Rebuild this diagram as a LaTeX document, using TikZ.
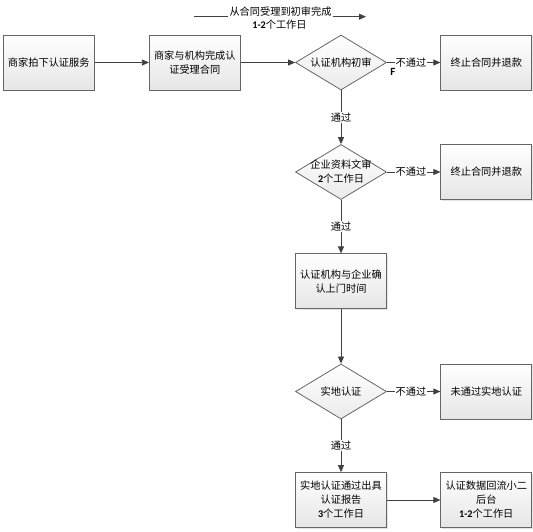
\documentclass[tikz,border=0pt]{standalone}
\usepackage{fontspec}
\setmainfont{Noto Sans CJK SC}
\newfontfamily\numf{Carlito}
\usetikzlibrary{arrows.meta,shapes.geometric,shadows}
\begin{document}
\begin{tikzpicture}[x=1pt,y=-1pt,
  every node/.style={font=\fontsize{10.2}{14}\selectfont},
  box/.style={draw=black!60, line width=0.8pt, top color=white, bottom color=black!10,
    minimum width=91pt, minimum height=55pt, align=center, inner sep=2pt,
    drop shadow={shadow xshift=1pt,shadow yshift=-1pt,fill=black!20}},
  dia/.style={diamond, draw=black!60, line width=0.8pt, top color=white, bottom color=black!8,
    minimum width=91pt, minimum height=55pt, inner sep=0pt},
  conn/.style={draw=black!75, line width=0.8pt, -{Triangle[length=7pt,width=6pt]}},
  plain/.style={draw=black!75, line width=0.8pt},
  lbl/.style={fill=white, inner sep=1pt},
  flabel/.style={font=\numf\bfseries\fontsize{11}{12}\selectfont, inner sep=0pt}
]
\useasboundingbox (0,0) rectangle (533,532);

% nodes
\node[box] (b1) at (48.8,62.5) {商家拍下认证服务};
\node[box] (b2) at (194.8,62.5) {商家与机构完成认\\证受理合同};
\node[dia, label={[align=center]center:认证机构初审}] (d1) at (341,62.5) {};
\node[box] (b3) at (486.3,62.5) {终止合同并退款};
\node[dia, label={[align=center]center:企业资料文审\\{\numf\bfseries 2}个工作日}] (d2) at (341,172) {};
\node[box] (b4) at (486.3,172) {终止合同并退款};
\node[box] (b5) at (341,281.3) {认证机构与企业确\\认上门时间};
\node[dia, label={[align=center]center:实地认证}] (d3) at (341,391.5) {};
\node[box] (b6) at (486.3,391.5) {未通过实地认证};
\node[box] (b7) at (341,500) {实地认证通过出具\\认证报告\\{\numf\bfseries 3}个工作日};
\node[box] (b8) at (486.3,500) {认证数据回流小二\\后台\\{\numf\bfseries 1-2}个工作日};

% top timeline
\node[inner sep=1pt] (tt) at (280.5,11.7) {从合同受理到初审完成};
\node[inner sep=1pt] (tt2) at (279.5,24.5) {{\numf\bfseries 1-2}个工作日};
\coordinate (ts) at (194,16.7);
\coordinate (te) at (366,16.7);
\draw[plain] (ts) -- (ts -| tt.west);
\draw[conn] (te -| tt.east) -- (te);

\node[flabel] (f) at (393,72) {F};

% connectors
\draw[conn] (b1) -- (b2);
\draw[conn] (b2) -- (d1);
\draw[conn] (d1) -- node[lbl, pos=0.45] {不通过} (b3);
\draw[conn] (d1) -- node[lbl] {通过} (d2);
\draw[conn] (d2) -- node[lbl, pos=0.45] {不通过} (b4);
\draw[conn] (d2) -- node[lbl] {通过} (b5);
\draw[conn] (b5) -- (d3);
\draw[conn] (d3) -- node[lbl, pos=0.45] {不通过} (b6);
\draw[conn] (d3) -- node[lbl] {通过} (b7);
\draw[conn] (b7) -- (b8);
\end{tikzpicture}
\end{document}
